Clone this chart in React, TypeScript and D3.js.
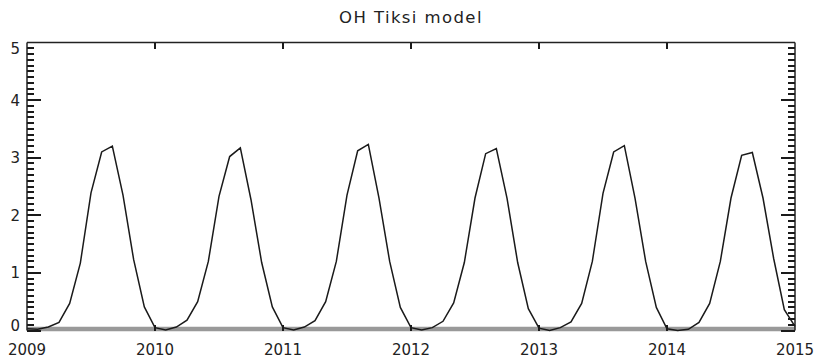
import React, { useEffect, useRef } from 'react';
import * as d3 from 'd3';

const chartTitle = 'OH Tiksi model';
const yearTicks = [2009, 2010, 2011, 2012, 2013, 2014, 2015];
const yTicks = [0, 1, 2, 3, 4, 5];

// modelled OH, one value per month (first of month), Jan..Dec
const oh2009 = [0.03, 0.02, 0.06, 0.14, 0.47, 1.17, 2.39, 3.1, 3.2, 2.35, 1.23, 0.41];
const oh2010 = [0.05, 0.01, 0.06, 0.18, 0.5, 1.2, 2.33, 3.02, 3.17, 2.27, 1.18, 0.41];
const oh2011 = [0.05, 0.01, 0.06, 0.17, 0.5, 1.2, 2.35, 3.12, 3.23, 2.3, 1.2, 0.4];
const oh2012 = [0.05, 0.01, 0.05, 0.16, 0.48, 1.18, 2.3, 3.07, 3.16, 2.3, 1.18, 0.38];
const oh2013 = [0.04, 0.0, 0.05, 0.15, 0.47, 1.2, 2.38, 3.1, 3.21, 2.3, 1.2, 0.4];
const oh2014 = [0.03, 0.0, 0.02, 0.14, 0.47, 1.2, 2.3, 3.04, 3.09, 2.3, 1.25, 0.36];
const oh2015 = [0.07];

const W = 816, H = 359;

export default function App() {
  const ref = useRef<SVGSVGElement>(null);

  useEffect(() => {
    const svg = d3.select(ref.current);
    svg.selectAll('*').remove();

    const values = [...oh2009, ...oh2010, ...oh2011, ...oh2012, ...oh2013, ...oh2014, ...oh2015];
    const data = values.map((v, i) => ({ t: 2009 + i / 12, v }));

    const x = d3.scaleLinear().domain([2009, 2015]).range([27, 795]);
    const y = d3.scaleLinear().domain([0, 5]).range([330.5, 42.5]);
    const x0 = x.range()[0], x1 = x.range()[1];
    const yTop = y(5), yBot = y(0);
    const font = 'DejaVu Sans, sans-serif';

    svg.append('text')
      .attr('x', 411).attr('y', 23)
      .attr('text-anchor', 'middle')
      .attr('font-family', font).attr('font-size', 16.5)
      .attr('letter-spacing', 1.4)
      .attr('fill', '#222')
      .text(chartTitle);

    // zero line (grey, thick)
    svg.append('line')
      .attr('x1', x0).attr('x2', x1)
      .attr('y1', yBot - 1.5).attr('y2', yBot - 1.5)
      .attr('stroke', '#999').attr('stroke-width', 4.5);

    const line = d3.line<{ t: number; v: number }>()
      .x(d => x(d.t))
      .y(d => y(d.v));

    svg.append('path')
      .datum(data)
      .attr('d', line)
      .attr('fill', 'none')
      .attr('stroke', '#1a1a1a')
      .attr('stroke-width', 1.5)
      .attr('stroke-linejoin', 'miter');

    const ax = svg.append('g').attr('stroke', '#222').attr('stroke-width', 1.5);
    // box
    ax.append('line').attr('x1', x0).attr('x2', x1).attr('y1', yTop).attr('y2', yTop);
    ax.append('line').attr('x1', x0).attr('x2', x0).attr('y1', yTop).attr('y2', yBot);
    ax.append('line').attr('x1', x1).attr('x2', x1).attr('y1', yTop).attr('y2', yBot);

    // y minor + major ticks on both sides
    const tk = svg.append('g').attr('stroke', '#1a1a1a').attr('stroke-width', 2)
      .attr('shape-rendering', 'crispEdges');
    const minor = d3.range(0, 50).map(i => i / 10);
    minor.forEach(v => {
      const major = Math.abs(v - Math.round(v)) < 1e-6;
      const len = major ? 14 : 7;
      const yy = Math.round(y(v));
      tk.append('line').attr('x1', x0).attr('x2', x0 + len).attr('y1', yy).attr('y2', yy);
      tk.append('line').attr('x1', x1).attr('x2', x1 - len).attr('y1', yy).attr('y2', yy);
    });

    // x ticks top and bottom
    yearTicks.slice(1, -1).forEach(t => {
      tk.append('line').attr('x1', x(t)).attr('x2', x(t)).attr('y1', yTop).attr('y2', yTop + 6);
      tk.append('line').attr('x1', x(t)).attr('x2', x(t)).attr('y1', yBot).attr('y2', yBot - 6);
    });

    // end labels nudged inwards like the original
    const nudge = (d: number) => (d === 5 ? 6 : d === 0 ? -5 : 0);
    svg.append('g').selectAll('text')
      .data(yTicks)
      .join('text')
      .attr('x', 20).attr('y', d => y(d) + nudge(d))
      .attr('dy', '0.36em')
      .attr('text-anchor', 'end')
      .attr('font-family', font).attr('font-size', 15)
      .attr('fill', '#222')
      .text(d => String(d));

    svg.append('g').selectAll('text')
      .data(yearTicks)
      .join('text')
      .attr('x', d => x(d)).attr('y', 355)
      .attr('text-anchor', 'middle')
      .attr('font-family', font).attr('font-size', 15)
      .attr('fill', '#222')
      .text(d => String(d));
  }, []);

  return (
    <svg ref={ref} width={W} height={H}
      style={{ position: 'absolute', left: 0, top: 0, background: '#fff' }} />
  );
}
